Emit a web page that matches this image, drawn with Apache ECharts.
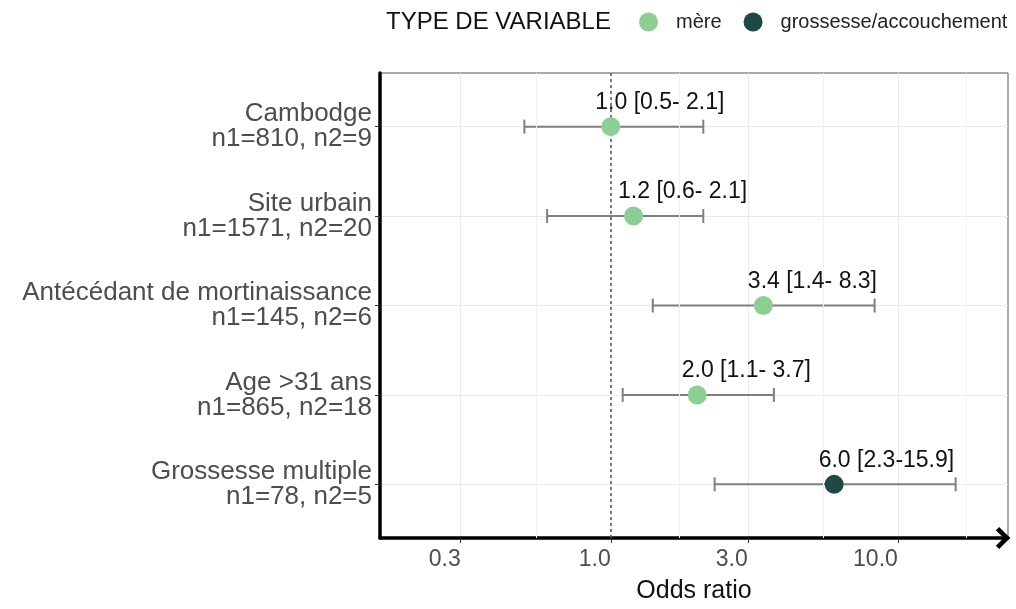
<!DOCTYPE html>
<html><head><meta charset="utf-8">
<script src="https://cdn.jsdelivr.net/npm/echarts@6/dist/echarts.min.js"></script>
<style>html,body{margin:0;padding:0;background:#fff}#c{width:1016px;height:609px}</style>
</head><body><div id="c"></div>
<script>
const categories = ['Cambodge\nn1=810, n2=9','Site urbain\nn1=1571, n2=20','Antécédant de mortinaissance\nn1=145, n2=6','Age >31 ans\nn1=865, n2=18','Grossesse multiple\nn1=78, n2=5'];
const types = ['mère','mère','mère','mère','grossesse/accouchement'];
const oddsRatio = [1.0, 1.2, 3.4, 2.0, 6.0];
const ciLow = [0.5, 0.6, 1.4, 1.1, 2.3];
const ciHigh = [2.1, 2.1, 8.3, 3.7, 15.9];
const xTicks = [0.3, 1, 3, 10];
const minorBreaks = [0.548, 1.732, 5.477, 17.32];
const typeNames = ['mère','grossesse/accouchement'];
const typeColors = ['#8ccf95','#1e4a45'];

function labelText(i){
  const f = v => v.toFixed(1);
  const hi = ciHigh[i] >= 10 ? f(ciHigh[i]) : ' ' + f(ciHigh[i]);
  return f(oddsRatio[i]) + ' [' + f(ciLow[i]) + '-' + hi + ']';
}

const errData = categories.map((c,i)=>[ciLow[i], ciHigh[i], i+1]);
const pointSeries = typeNames.map((t,k)=>({
  name: t, type: 'scatter', symbolSize: 19, z: 5,
  itemStyle: {color: typeColors[k], opacity: 1},
  data: oddsRatio.map((v,i)=> types[i]===t ? {value:[v, i+1], label:{formatter: labelText(i)}} : null).filter(d=>d),
  label: {show: true, position: [-6, -26], align: 'left', verticalAlign: 'top',
    color: '#111', fontSize: 23, fontFamily: 'Liberation Sans'}
}));

const chart = echarts.init(document.getElementById('c'));
chart.setOption({
  animation: false,
  textStyle: {fontFamily: 'Liberation Sans'},
  title: {text: 'TYPE DE VARIABLE', left: 381, top: 5,
    textStyle: {fontSize: 24, fontWeight: 'normal', color: '#111', fontFamily: 'Liberation Sans'}},
  legend: {left: 634, top: 7, icon: 'circle', itemWidth: 19, itemHeight: 19, itemGap: 22,
    data: typeNames, textStyle: {fontSize: 20, color: '#222', fontFamily: 'Liberation Sans', padding: [0, 0, 0, 13]}},
  grid: {left: 380, right: 8, top: 73, bottom: 68, show: true, borderColor: '#555', borderWidth: 1},
  xAxis: {type: 'log', logBase: 10, min: 0.157, max: 24.2,
    name: 'Odds ratio', nameLocation: 'middle', nameGap: 41,
    nameTextStyle: {fontSize: 25, color: '#111'},
    axisLine: {show: true, lineStyle: {color: '#000', width: 3.5},
      symbol: ['none', 'path://M0,10 L10,0 L20,10 L17,13 L10,6 L3,13 Z'], symbolSize: [22, 15], symbolOffset: [0, -5]},
    axisTick: {show: true, customValues: xTicks, length: 5, lineStyle: {color: '#333', width: 1}},
    axisLabel: {customValues: xTicks, fontSize: 23, color: '#4d4d4d', margin: 10, align: 'right',
      formatter: v => Number(v).toFixed(1)},
    splitLine: {show: true, lineStyle: {color: '#ebebeb', width: 1}}
  },
  yAxis: {type: 'value', inverse: true, min: 0.4, max: 5.6,
    axisLine: {show: true, lineStyle: {color: '#000', width: 3.5}},
    axisTick: {show: true, customValues: [1,2,3,4,5], length: 5, lineStyle: {color: '#333'}},
    axisLabel: {customValues: [1,2,3,4,5], fontSize: 26, color: '#4d4d4d', lineHeight: 25, align: 'right', margin: 8,
      padding: [8, 0, 0, 0],
      formatter: v => categories[Math.round(v)-1] || ''},
    splitLine: {show: true, lineStyle: {color: '#ebebeb', width: 1}}
  },
  series: [
    {type: 'custom', z: 3, data: errData, silent: true,
      renderItem: (params, api) => {
        const y = api.value(2);
        const a = api.coord([api.value(0), y]);
        const b = api.coord([api.value(1), y]);
        const h = 7;
        const st = {stroke: '#7f7f7f', lineWidth: 2};
        return {type: 'group', children: [
          {type: 'line', shape: {x1: a[0], y1: a[1], x2: b[0], y2: b[1]}, style: st},
          {type: 'line', shape: {x1: a[0], y1: a[1]-h, x2: a[0], y2: a[1]+h}, style: st},
          {type: 'line', shape: {x1: b[0], y1: b[1]-h, x2: b[0], y2: b[1]+h}, style: st}
        ]};
      },
      markLine: {silent: true, symbol: 'none', label: {show: false},
        data: minorBreaks.map(v=>({xAxis: v, lineStyle: {color: '#f0f0f0', width: 1, type: 'solid'}}))
          .concat([{xAxis: 1, lineStyle: {color: '#555', width: 1.5, type: [3, 3]}}])}
    },
    ...pointSeries
  ]
});
</script></body></html>
